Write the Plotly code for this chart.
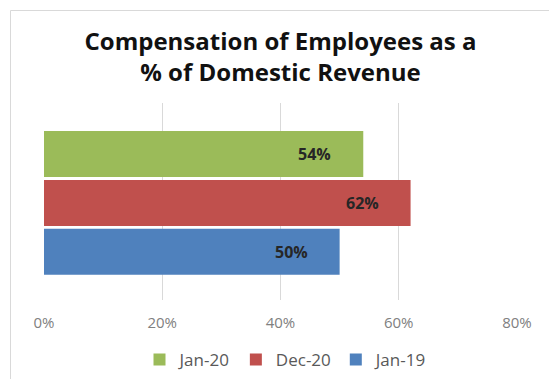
import plotly.graph_objects as go

# Series, top to bottom as drawn
series = ["Jan-20", "Dec-20", "Jan-19"]
values = [54, 62, 50]
colors = ["#9BBB59", "#C0504D", "#4F81BD"]
tick_vals = [0, 20, 40, 60, 80]
tick_text = ["0%", "20%", "40%", "60%", "80%"]

W, H = 549, 379
L, R, T, B = 44, 32, 103, 79

fig = go.Figure()
for name, val, col in zip(series, values, colors):
    fig.add_trace(go.Bar(
        x=[val], y=[name], orientation="h", name=name,
        marker=dict(color=col, line=dict(width=0)),
        width=0.94,
    ))
    fig.add_annotation(
        x=val, y=name, xref="x", yref="y",
        text=f"<b>{val}%</b>", showarrow=False,
        xanchor="right", xshift=-30,
        font=dict(family="Open Sans", size=16, color="#262626"),
    )

# light outer frame of the chart object
pw, ph = W - L - R, H - T - B
fig.add_shape(
    type="rect", xref="paper", yref="paper",
    x0=(10.5 - L) / pw, x1=(W + 20 - L) / pw,
    y0=(H - B - (H + 20)) / ph, y1=(H - B - 10.5) / ph,
    line=dict(color="#D9D9D9", width=1), fillcolor="rgba(0,0,0,0)",
    layer="below",
)

fig.update_layout(
    width=W, height=H,
    margin=dict(l=L, r=R, t=T, b=B, autoexpand=False),
    paper_bgcolor="white", plot_bgcolor="white",
    barmode="overlay",
    title=dict(
        text="Compensation of Employees as a<br>% of Domestic Revenue",
        font=dict(family="Open Sans", size=24, color="#111111", weight="bold"),
        x=0.5, xref="paper", xanchor="center",
        y=(H - 50) / H, yref="container", yanchor="middle",
    ),
    xaxis=dict(
        range=[0, 80], tickvals=tick_vals, ticktext=tick_text,
        showgrid=True, gridcolor="#D9D9D9", gridwidth=1,
        zeroline=False, showline=False, ticks="",
        ticklabelstandoff=12,
        tickfont=dict(family="Open Sans", size=15, color="#808080"),
        fixedrange=True, automargin=False,
    ),
    yaxis=dict(
        categoryorder="array", categoryarray=series[::-1],
        range=[-0.985, 3.045], showticklabels=False, showgrid=False,
        zeroline=False, showline=False, ticks="", automargin=False,
    ),
    legend=dict(
        orientation="h", x=(286 - L) / pw, xanchor="center",
        yref="container", y=(H - 360) / H, yanchor="middle",
        traceorder="normal",
        font=dict(family="Open Sans", size=17, color="#595959"),
        itemwidth=30,
    ),
    showlegend=True,
)

fig.write_html("out.html")
